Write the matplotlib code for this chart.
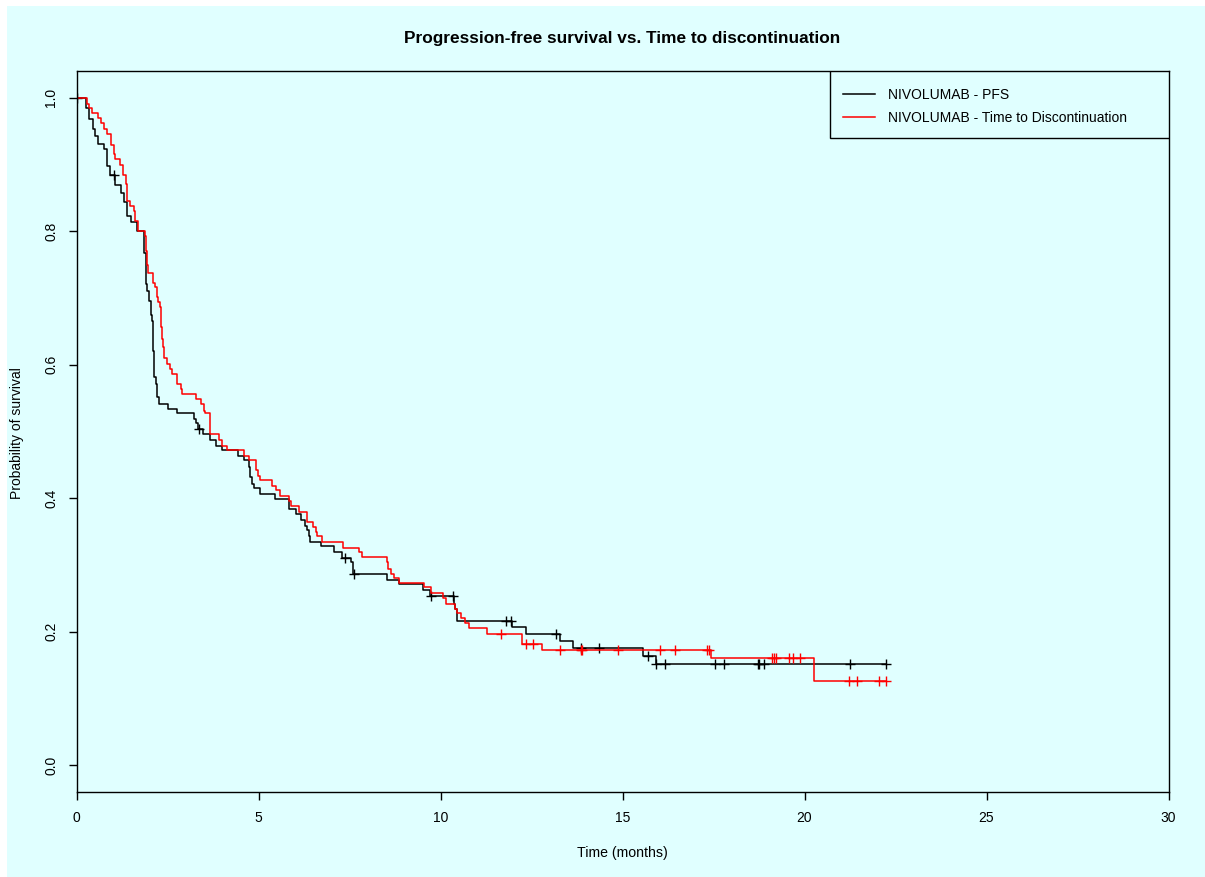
import numpy as np
import matplotlib
matplotlib.use("Agg")
import matplotlib.pyplot as plt
from matplotlib.patches import Rectangle

plt.rcParams['font.family'] = ['Liberation Sans', 'DejaVu Sans']

# ---------------- data ----------------
pfs_time = [0, 0.25, 0.34, 0.46, 0.52, 0.59, 0.75, 0.84, 0.93, 1.07, 1.23, 1.30, 1.39,
            1.51, 1.67, 1.85, 1.90, 1.94, 1.99, 2.05, 2.08, 2.10, 2.12, 2.14, 2.18,
            2.22, 2.26, 2.51, 2.77, 3.22, 3.27, 3.33, 3.48, 3.68, 3.82, 4.00, 4.43,
            4.60, 4.73, 4.76, 4.81, 4.87, 5.05, 5.45, 5.83, 6.04, 6.17, 6.29, 6.32,
            6.38, 6.41, 6.72, 7.07, 7.30, 7.55, 7.60, 8.52, 8.85, 9.52, 9.72, 10.37,
            10.41, 10.44, 10.46, 11.97, 12.36, 13.28, 13.64, 15.57, 15.91, 22.25]
pfs_surv = [1.0, 0.984, 0.968, 0.953, 0.943, 0.931, 0.923, 0.898, 0.884, 0.869, 0.858,
            0.844, 0.823, 0.814, 0.801, 0.768, 0.721, 0.711, 0.696, 0.674, 0.666, 0.620,
            0.606, 0.581, 0.571, 0.551, 0.541, 0.534, 0.527, 0.519, 0.512, 0.503, 0.497,
            0.488, 0.479, 0.472, 0.463, 0.457, 0.447, 0.432, 0.422, 0.416, 0.406, 0.399,
            0.384, 0.377, 0.367, 0.359, 0.352, 0.344, 0.335, 0.328, 0.319, 0.311, 0.304,
            0.286, 0.278, 0.272, 0.262, 0.253, 0.242, 0.234, 0.225, 0.216, 0.207, 0.197,
            0.186, 0.175, 0.163, 0.151, 0.151]
pfs_censor = [0.02, 1.02, 3.36, 7.39, 7.62, 9.74, 10.34, 11.79, 11.94, 13.16, 13.87,
              14.35, 15.70, 15.93, 16.18, 17.54, 17.78, 18.72, 18.76, 18.88, 21.26, 22.25]

ttd_time = [0, 0.29, 0.34, 0.43, 0.59, 0.66, 0.75, 0.84, 0.95, 1.03, 1.07, 1.19, 1.28,
            1.36, 1.39, 1.48, 1.57, 1.62, 1.68, 1.87, 1.90, 1.94, 1.96, 2.11, 2.17,
            2.20, 2.23, 2.29, 2.31, 2.35, 2.38, 2.40, 2.49, 2.58, 2.63, 2.77, 2.86,
            2.90, 3.27, 3.41, 3.50, 3.54, 3.68, 3.91, 4.00, 4.14, 4.60, 4.73, 4.92,
            4.98, 5.05, 5.38, 5.47, 5.60, 5.83, 5.88, 6.11, 6.34, 6.50, 6.57, 6.61,
            6.75, 7.33, 7.76, 7.85, 8.54, 8.55, 8.63, 8.72, 8.87, 9.54, 9.73, 10.07,
            10.16, 10.41, 10.46, 10.55, 10.66, 10.78, 11.28, 12.24, 12.79, 17.42,
            20.26, 22.25]
ttd_surv = [1.0, 0.991, 0.984, 0.977, 0.969, 0.962, 0.953, 0.946, 0.929, 0.916, 0.908,
            0.899, 0.884, 0.870, 0.846, 0.838, 0.831, 0.815, 0.801, 0.793, 0.771, 0.749,
            0.738, 0.723, 0.716, 0.701, 0.694, 0.686, 0.656, 0.639, 0.626, 0.610, 0.601,
            0.594, 0.586, 0.571, 0.564, 0.556, 0.549, 0.541, 0.531, 0.527, 0.497, 0.487,
            0.479, 0.472, 0.464, 0.458, 0.442, 0.434, 0.427, 0.419, 0.412, 0.404, 0.396,
            0.388, 0.380, 0.364, 0.357, 0.349, 0.343, 0.335, 0.326, 0.319, 0.312, 0.304,
            0.294, 0.287, 0.280, 0.273, 0.267, 0.258, 0.251, 0.242, 0.234, 0.228, 0.220,
            0.213, 0.206, 0.197, 0.181, 0.172, 0.160, 0.127, 0.127]
ttd_censor = [11.65, 12.34, 12.55, 13.28, 13.85, 13.88, 14.88, 16.03, 16.43, 17.33,
              17.38, 19.12, 19.16, 19.21, 19.57, 19.69, 19.87, 21.22, 21.43, 22.04, 22.25]

series_labels = ["NIVOLUMAB - PFS", "NIVOLUMAB - Time to Discontinuation"]
series_colors = ["#000000", "#FF0000"]
x_ticks = [0, 5, 10, 15, 20, 25, 30]
y_ticks = [0.0, 0.2, 0.4, 0.6, 0.8, 1.0]
title = "Progression-free survival vs. Time to discontinuation"
xlabel = "Time (months)"
ylabel = "Probability of survival"

# ---------------- figure ----------------
W, H = 1205, 877
fig = plt.figure(figsize=(W / 100, H / 100), dpi=100, facecolor="white")
bg = "#E0FFFF"
fig.patches.append(Rectangle((7 / W, 0), 1 - 7 / W, (H - 6) / H,
                             transform=fig.transFigure, facecolor=bg,
                             edgecolor="none", zorder=-10))

ax_l, ax_r, ax_t, ax_b = 76.5, 1168.5, 71, 792
ax = fig.add_axes([ax_l / W, 1 - ax_b / H, (ax_r - ax_l) / W, (ax_b - ax_t) / H])
ax.set_facecolor(bg)


def surv_at(times, surv, t):
    idx = np.searchsorted(np.asarray(times), np.asarray(t), side="right") - 1
    return np.asarray(surv)[idx]


curves = [(pfs_time, pfs_surv, pfs_censor), (ttd_time, ttd_surv, ttd_censor)]
handles = []
for (tt, ss, cc), col, lab in zip(curves, series_colors, series_labels):
    h, = ax.step(tt, ss, where="post", color=col, lw=1.1, label=lab)
    ax.plot(cc, surv_at(tt, ss, cc), linestyle="none", marker="+", color=col,
            markersize=7, markeredgewidth=1.0)
    handles.append(h)

ax.set_xlim(0, 30)
ax.set_ylim(-0.04, 1.04)
ax.set_xticks(x_ticks)
ax.set_xticklabels([str(v) for v in x_ticks])
ax.set_yticks(y_ticks)
ax.set_yticklabels([f"{v:.1f}" for v in y_ticks], rotation=90, va="center")
ax.tick_params(axis="x", length=6, width=1, pad=8, labelsize=10, direction="out")
ax.tick_params(axis="y", length=6, width=1, pad=7, labelsize=10, direction="out")
for sp in ax.spines.values():
    sp.set_linewidth(1)
    sp.set_color("black")

# legend box (R style, touching top-right corner)
lx0 = (830 - ax_l) / (ax_r - ax_l)
ly0 = (ax_b - 138) / (ax_b - ax_t)
ax.add_patch(Rectangle((lx0, ly0), 1 - lx0, 1 - ly0, transform=ax.transAxes,
                       facecolor=bg, edgecolor="black", lw=1, zorder=5))
leg = ax.legend(handles=handles, loc="upper left",
                bbox_to_anchor=((843 - ax_l) / (ax_r - ax_l), (ax_b - 88) / (ax_b - ax_t)),
                frameon=False, fontsize=10, handlelength=2.3, handletextpad=0.95,
                labelspacing=0.62, borderpad=0, borderaxespad=0)
leg.set_zorder(6)

fig.text(622 / W, 1 - 38 / H, title, ha="center", va="center",
         fontsize=12.4, fontweight="bold")
fig.text(622 / W, 1 - 853 / H, xlabel, ha="center", va="center", fontsize=10.2)
fig.text(17 / W, 1 - 433 / H, ylabel, ha="center", va="center", fontsize=10,
         rotation=90)

fig.savefig("out.png", dpi=100, facecolor=fig.get_facecolor())
